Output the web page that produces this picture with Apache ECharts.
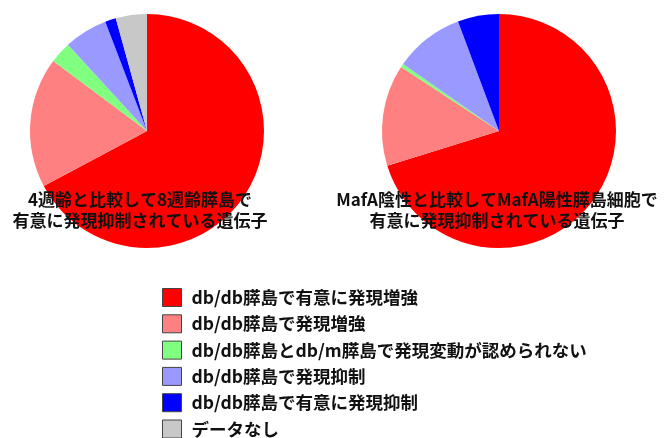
<!DOCTYPE html>
<html>
<head>
<meta charset="utf-8">
<script src="https://cdn.jsdelivr.net/npm/echarts@6/dist/echarts.min.js"></script>
<style>
html,body{margin:0;padding:0;background:#fff;}
#chart{width:667px;height:438px;}
</style>
</head>
<body>
<div id="chart"></div>
<script>
const categories = [
  'db/db膵島で有意に発現増強',
  'db/db膵島で発現増強',
  'db/db膵島とdb/m膵島で発現変動が認められない',
  'db/db膵島で発現抑制',
  'db/db膵島で有意に発現抑制',
  'データなし'
];
const colors = ['#ff0000', '#ff8080', '#80ff80', '#9999ff', '#0000ff', '#c8c8c8'];
const leftValues = [67.2, 18.0, 3.0, 6.0, 1.5, 4.3];
const rightValues = [70.2, 14.0, 0.5, 9.6, 5.7, 0];
const leftTitle = '4週齢と比較して8週齢膵島で\n有意に発現抑制されている遺伝子';
const rightTitle = 'MafA陰性と比較してMafA陽性膵島細胞で\n有意に発現抑制されている遺伝子';

const font = '"Noto Sans CJK JP", "Noto Sans", sans-serif';

function pieSeries(values, center) {
  return {
    type: 'pie',
    center: center,
    radius: 117,
    startAngle: 90,
    clockwise: true,
    avoidLabelOverlap: false,
    label: { show: false },
    labelLine: { show: false },
    emphasis: { disabled: true },
    itemStyle: { borderWidth: 0 },
    data: categories.map((c, i) => ({ name: c, value: values[i], itemStyle: { color: colors[i] } }))
  };
}

const chart = echarts.init(document.getElementById('chart'));
chart.setOption({
  animation: false,
  backgroundColor: '#ffffff',
  legend: {
    orient: 'vertical',
    left: 162,
    top: 288,
    height: 200,
    padding: 0,
    itemWidth: 19,
    itemHeight: 18,
    itemGap: 7.3,
    icon: 'rect',
    selectedMode: false,
    itemStyle: { borderColor: '#444', borderWidth: 1 },
    textStyle: { fontSize: 17.5, fontWeight: 'bold', color: '#111', fontFamily: font, lineHeight: 18, padding: [0, 0, 0, 5] },
    data: categories
  },
  graphic: [
    {
      type: 'text', x: 140, y: 210, z: 100,
      style: { text: leftTitle, font: 'bold 17px ' + font, fill: '#111', align: 'center', verticalAlign: 'middle', lineHeight: 21 }
    },
    {
      type: 'text', x: 497, y: 210, z: 100,
      style: { text: rightTitle, font: 'bold 17px ' + font, fill: '#111', align: 'center', verticalAlign: 'middle', lineHeight: 21 }
    }
  ],
  series: [
    pieSeries(leftValues, [147, 131]),
    pieSeries(rightValues, [499, 131])
  ]
});
</script>
</body>
</html>
